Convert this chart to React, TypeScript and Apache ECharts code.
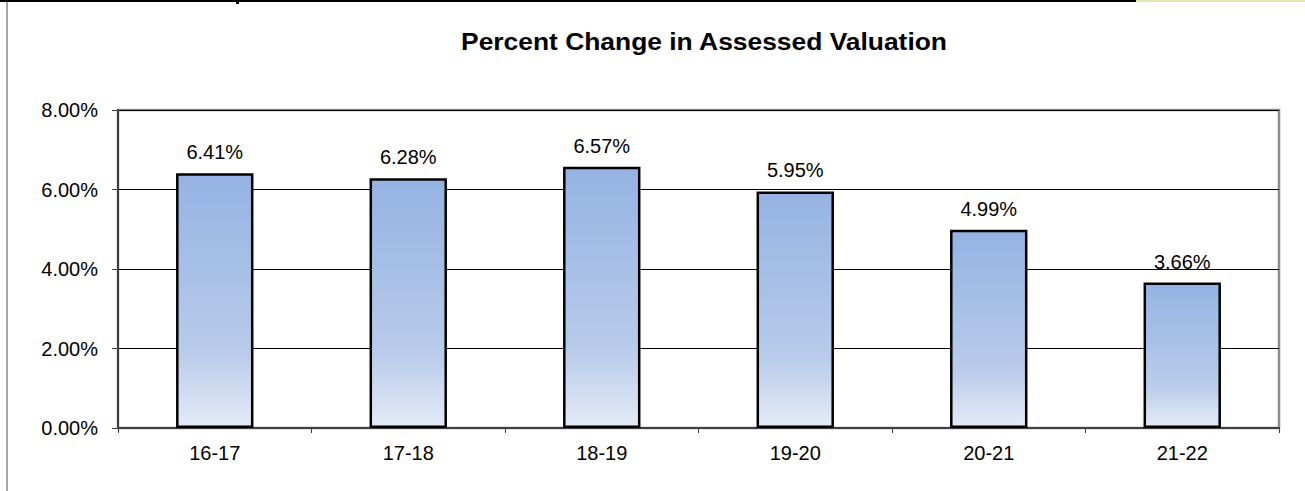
import React, { useEffect, useRef } from "react";
import * as echarts from "echarts";

const categories = ["16-17", "17-18", "18-19", "19-20", "20-21", "21-22"];
const values = [6.41, 6.28, 6.57, 5.95, 4.99, 3.66];
const titleText = "Percent Change in Assessed Valuation";

export default function App() {
  const ref = useRef<HTMLDivElement>(null);
  useEffect(() => {
    if (!ref.current) return;
    const chart = echarts.init(ref.current, null, { renderer: "svg" });
    const font = "Liberation Sans, Arial, sans-serif";
    chart.setOption({
      animation: false,
      backgroundColor: "#ffffff",
      graphic: [
        { type: "line", shape: { x1: 0, y1: 1, x2: 1136, y2: 1 }, style: { stroke: "#000", lineWidth: 2 } },
        { type: "line", shape: { x1: 1136, y1: 1, x2: 1305, y2: 1 }, style: { stroke: "#dde8b0", lineWidth: 2 } },
        { type: "rect", shape: { x: 236, y: 0, width: 3, height: 4 }, style: { fill: "#000" } },
        { type: "line", shape: { x1: 7, y1: 2, x2: 7, y2: 491 }, style: { stroke: "#888", lineWidth: 1.5 } },
        {
          type: "text",
          x: 704,
          y: 41,
          scaleX: 1.1,
          style: {
            text: titleText,
            font: "bold 24px " + font,
            fill: "#000",
            textAlign: "center",
            textVerticalAlign: "middle",
          },
        },
      ],
      grid: {
        left: 118,
        right: 26,
        top: 110,
        bottom: 63,
        show: true,
        borderColor: "#8c8c8c",
        borderWidth: 2.5,
        containLabel: false,
      },
      xAxis: {
        type: "category",
        data: categories,
        axisLine: { show: true, lineStyle: { color: "#404040", width: 2 } },
        axisTick: { show: true, length: 5, lineStyle: { color: "#404040", width: 1 }, alignWithLabel: false },
        axisLabel: { color: "#000", fontSize: 20, fontFamily: font, margin: 15 },
      },
      yAxis: {
        type: "value",
        min: 0,
        max: 8,
        interval: 2,
        axisLine: { show: true, lineStyle: { color: "#404040", width: 2 } },
        axisTick: { show: true, length: 6, lineStyle: { color: "#404040", width: 1 } },
        axisLabel: {
          color: "#000",
          fontSize: 20,
          fontFamily: font,
          margin: 20,
          formatter: (v: number) => v.toFixed(2) + "%",
        },
        splitLine: { show: true, lineStyle: { color: "#000", width: 1 } },
      },
      series: [
        {
          type: "bar",
          data: values,
          barWidth: "40%",
          itemStyle: {
            borderColor: "#000",
            borderWidth: 2.5,
            color: new echarts.graphic.LinearGradient(0, 0, 0, 1, [
              { offset: 0, color: "#95b3e3" },
              { offset: 0.7, color: "#b8cbea" },
              { offset: 1, color: "#e4ebf7" },
            ]),
          },
          label: {
            show: true,
            position: "top",
            distance: 11,
            color: "#000",
            fontSize: 20,
            fontFamily: font,
            formatter: (p: any) => p.value.toFixed(2) + "%",
          },
        },
      ],
    });
    return () => chart.dispose();
  }, []);
  return (
    <div
      ref={ref}
      style={{ position: "absolute", left: 0, top: 0, width: 1305, height: 491 }}
    />
  );
}
